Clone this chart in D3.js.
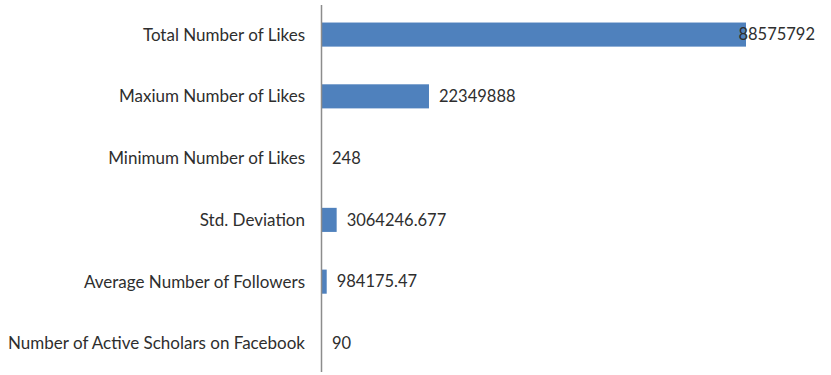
<!DOCTYPE html>
<html>
<head>
<meta charset="utf-8">
<script src="https://cdn.jsdelivr.net/npm/d3@7"></script>
<style>
  html, body { margin: 0; padding: 0; background: #fff; }
  svg { display: block; }
  text { font-family: Lato, "Open Sans", sans-serif; fill: #2e2e2e; }
</style>
</head>
<body>
<svg id="chart" width="831" height="375"></svg>
<script>
// Facebook activity statistics for scholars
const categories = [
  "Total Number of Likes",
  "Maxium Number of Likes",
  "Minimum Number of Likes",
  "Std. Deviation",
  "Average Number of Followers",
  "Number of Active Scholars on Facebook"
];
const values = [88575792, 22349888, 248, 3064246.677, 984175.47, 90];
const valueLabels = ["88575792", "22349888", "248", "3064246.677", "984175.47", "90"];

const svg = d3.select("#chart");
const W = 831, H = 375;
const axisX = 322;

const x = d3.scaleLinear().domain([0, d3.max(values)]).range([axisX, 746]);
const y = d3.scaleBand().domain(categories).range([4, 374]).paddingInner(0.61).paddingOuter(0.3);

// bars
svg.selectAll("rect.bar")
  .data(values)
  .join("rect")
  .attr("class", "bar")
  .attr("x", x(0))
  .attr("y", (d, i) => y(categories[i]))
  .attr("width", d => x(d) - x(0))
  .attr("height", y.bandwidth())
  .attr("fill", "#4f81bd");

// category axis line
svg.append("line")
  .attr("x1", axisX - 0.5).attr("x2", axisX - 0.5)
  .attr("y1", 5).attr("y2", 372)
  .attr("stroke", "#8c8c8c").attr("stroke-width", 1.5);

// category labels
svg.selectAll("text.cat")
  .data(categories)
  .join("text")
  .attr("class", "cat")
  .attr("x", 305)
  .attr("y", d => y(d) + y.bandwidth() / 2)
  .attr("dy", "0.35em")
  .attr("text-anchor", "end")
  .attr("font-size", 17)
  .text(d => d);

// value labels, pulled back in when they would run past the right margin
svg.selectAll("text.val")
  .data(values)
  .join("text")
  .attr("class", "val")
  .attr("font-size", 16.5)
  .attr("y", (d, i) => y(categories[i]) + y.bandwidth() / 2)
  .attr("dy", "0.35em")
  .text((d, i) => valueLabels[i])
  .each(function (d) {
    const w = this.getComputedTextLength();
    let px = x(d) + 10;
    if (px + w > W - 16) px = W - 16 - w;
    d3.select(this).attr("x", px);
  });
</script>
</body>
</html>
